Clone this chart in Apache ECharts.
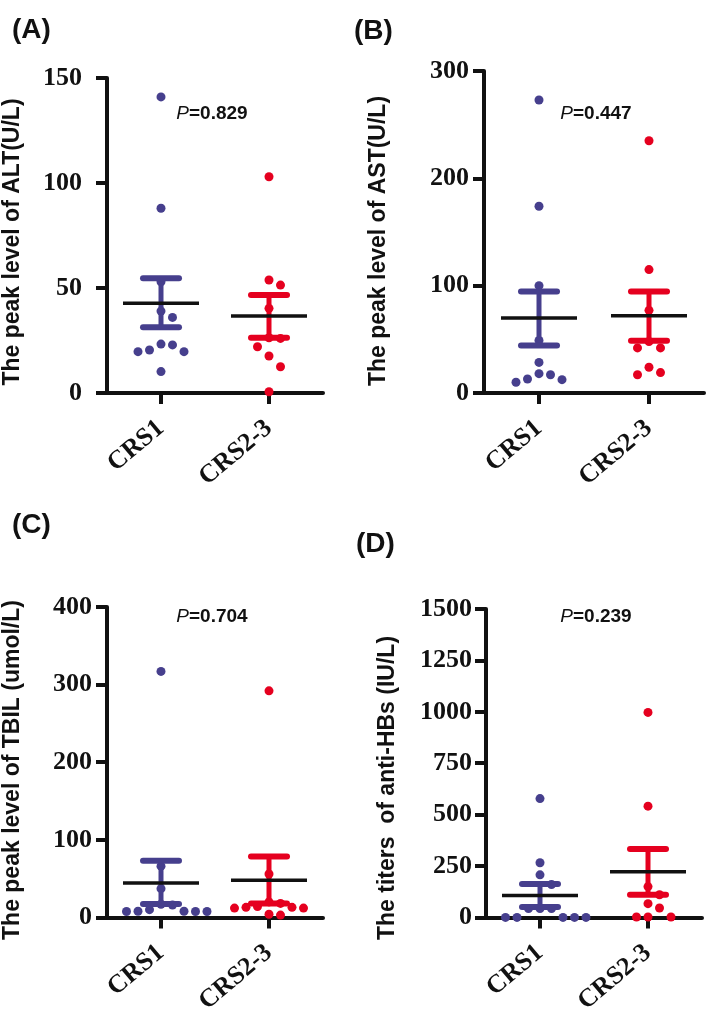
<!DOCTYPE html>
<html><head><meta charset="utf-8">
<script src="https://cdn.jsdelivr.net/npm/echarts@6/dist/echarts.min.js"></script>
<style>html,body{margin:0;padding:0;background:#fff}#c{width:709px;height:1017px}</style>
</head><body><div id="c"></div>
<script>
// ---- data ----
const groups = ['CRS1', 'CRS2-3'];
const panelLetters = ['(A)', '(B)', '(C)', '(D)'];
const yTitles = ['The peak level of ALT(U/L)', 'The peak level of AST(U/L)', 'The peak level of TBIL (umol/L)', 'The titers  of anti-HBs (IU/L)'];
const pValues = ['0.829', '0.447', '0.704', '0.239'];
const yMax = [150, 300, 400, 1500];
const yStep = [50, 100, 100, 250];

const altCRS1 = [141, 88, 53, 39, 36, 23.3, 20.5, 19.7, 19.7, 22.9, 10.2];
const altCRS23 = [103, 53.8, 51.4, 40.3, 26.3, 26, 22, 17.6, 12.5, 0.6];
const astCRS1 = [273, 174, 100, 49, 28.5, 18, 13, 10, 12.4, 17];
const astCRS23 = [235, 115, 77, 48, 42, 42, 24, 17, 19];
const tbilCRS1 = [317, 66, 37, 17, 16, 10, 8, 7.6, 7.6, 7.6, 8];
const tbilCRS23 = [292, 56, 18, 14, 13, 12, 12, 13, 3, 4, 20];
const hbsCRS1 = [578, 266, 207, 160, 43, 43, 43, 0, 0, 0, 0, 0];
const hbsCRS23 = [997, 541, 150, 110, 67, 46, 2, 2, 2];

const meanVals = [[42.7, 36.7], [69.8, 72], [44.4, 47.8], [107, 222]];
const semUpper = [[54.6, 46.7], [94.6, 94.6], [73, 78.6], [163, 333]];
const semLower = [[31.3, 26.3], [44.3, 48.7], [17.4, 18], [51, 110]];

const panelData = [[altCRS1, altCRS23], [astCRS1, astCRS23], [tbilCRS1, tbilCRS23], [hbsCRS1, hbsCRS23]];

// ---- layout ----
const BLUE = '#463f8d', RED = '#e5001f';
const colors = [BLUE, RED];
const grids = [
  {left: 107, top: 78, width: 216, height: 315},
  {left: 484, top: 71, width: 220, height: 322},
  {left: 107, top: 607, width: 216, height: 316},
  {left: 486, top: 609, width: 216, height: 313}
];
const labelMargins = [25, 15, 15, 14];
const letterPos = [[12, 30], [354, 31], [12, 525], [356, 544]];
const titlePos = [[13, 242], [379, 241], [13, 770], [388, 788]];
const pPos = [[212, 114], [596, 114], [212, 617], [596, 617]];

function swarm(values, center, pxPerX, pxPerY, sp) {
  const order = values.map((v, i) => i).sort((a, b) => values[b] - values[a]);
  const placed = [], res = [];
  const ks = [0, 1, -1, 2, -2, 3, -3, 4, -4];
  order.forEach(i => {
    const y = values[i] * pxPerY;
    let x = 0;
    for (const k of ks) {
      x = k * sp;
      if (placed.every(p => (p.x - x) ** 2 + (p.y - y) ** 2 >= (sp * 0.97) ** 2)) break;
    }
    placed.push({x, y});
    res[i] = [center + x / pxPerX, values[i]];
  });
  return res;
}

const option = {
  animation: false,
  backgroundColor: '#fff',
  grid: grids.map(g => Object.assign({containLabel: false}, g)),
  xAxis: grids.map((g, i) => ({
    type: 'value', gridIndex: i, min: 0.5, max: 2.5,
    splitLine: {show: false},
    axisLine: {show: true, onZero: false, lineStyle: {color: '#111', width: 4}},
    axisTick: {show: true, customValues: [1, 2], length: 11, lineStyle: {color: '#111', width: 4}},
    axisLabel: {
      customValues: [1, 2], rotate: 40, margin: 32,
      formatter: v => groups[Math.round(v) - 1] || '',
      fontFamily: 'Liberation Serif', fontWeight: 'bold', fontSize: 26, color: '#111'
    }
  })),
  yAxis: grids.map((g, i) => ({
    type: 'value', gridIndex: i, min: 0, max: yMax[i], interval: yStep[i],
    splitLine: {show: false},
    axisLine: {show: true, lineStyle: {color: '#111', width: 4}},
    axisTick: {show: true, length: 11, lineStyle: {color: '#111', width: 4}},
    axisLabel: {margin: labelMargins[i], formatter: v => String(v), fontFamily: 'Liberation Serif', fontWeight: 'bold', fontSize: 26, color: '#111'}
  })),
  series: [],
  graphic: []
};

panelData.forEach((pd, p) => {
  const g = grids[p];
  const pxPerX = g.width / 2, pxPerY = g.height / yMax[p];
  pd.forEach((vals, gi) => {
    option.series.push({
      type: 'scatter', xAxisIndex: p, yAxisIndex: p,
      symbol: 'circle', symbolSize: 9, z: 2,
      itemStyle: {color: colors[gi], opacity: 1},
      data: swarm(vals, gi + 1, pxPerX, pxPerY, 11.5)
    });
  });
  const statData = groups.map((name, gi) => [gi + 1, meanVals[p][gi], semUpper[p][gi], semLower[p][gi], gi]);
  option.series.push({
    type: 'custom', xAxisIndex: p, yAxisIndex: p, z: 5,
    data: statData,
    renderItem: (params, api) => {
      const x = api.value(0);
      const m = api.coord([x, api.value(1)]);
      const u = api.coord([x, api.value(2)]);
      const l = api.coord([x, api.value(3)]);
      const col = colors[api.value(4)];
      const capHalf = 18, meanHalf = 38;
      return {
        type: 'group',
        children: [
          {type: 'line', shape: {x1: m[0], y1: u[1], x2: m[0], y2: l[1]}, style: {stroke: col, lineWidth: 5}},
          {type: 'line', shape: {x1: m[0] - capHalf, y1: u[1], x2: m[0] + capHalf, y2: u[1]}, style: {stroke: col, lineWidth: 6, lineCap: 'round'}},
          {type: 'line', shape: {x1: m[0] - capHalf, y1: l[1], x2: m[0] + capHalf, y2: l[1]}, style: {stroke: col, lineWidth: 6, lineCap: 'round'}},
          {type: 'line', shape: {x1: m[0] - meanHalf, y1: m[1], x2: m[0] + meanHalf, y2: m[1]}, style: {stroke: '#111', lineWidth: 3.5}}
        ]
      };
    }
  });
  option.graphic.push({
    type: 'text', x: letterPos[p][0], y: letterPos[p][1],
    style: {text: panelLetters[p], font: 'bold 28px "Liberation Sans", Arial', fill: '#111', align: 'left', verticalAlign: 'middle'}
  });
  option.graphic.push({
    type: 'text', x: titlePos[p][0], y: titlePos[p][1], rotation: Math.PI / 2,
    style: {text: yTitles[p], font: 'bold 23px "Liberation Sans", Arial', fill: '#111', align: 'center', verticalAlign: 'middle'}
  });
  option.graphic.push({
    type: 'text', x: pPos[p][0], y: pPos[p][1],
    style: {
      text: '{i|P}{b|=' + pValues[p] + '}', align: 'center', verticalAlign: 'middle',
      rich: {
        i: {fontFamily: 'Liberation Sans', fontStyle: 'italic', fontSize: 19, fill: '#111', color: '#111'},
        b: {fontFamily: 'Liberation Sans', fontWeight: 'bold', fontSize: 19, fill: '#111', color: '#111'}
      }
    }
  });
});

const chart = echarts.init(document.getElementById('c'), null, {renderer: 'canvas'});
chart.setOption(option);
</script>
</body></html>
